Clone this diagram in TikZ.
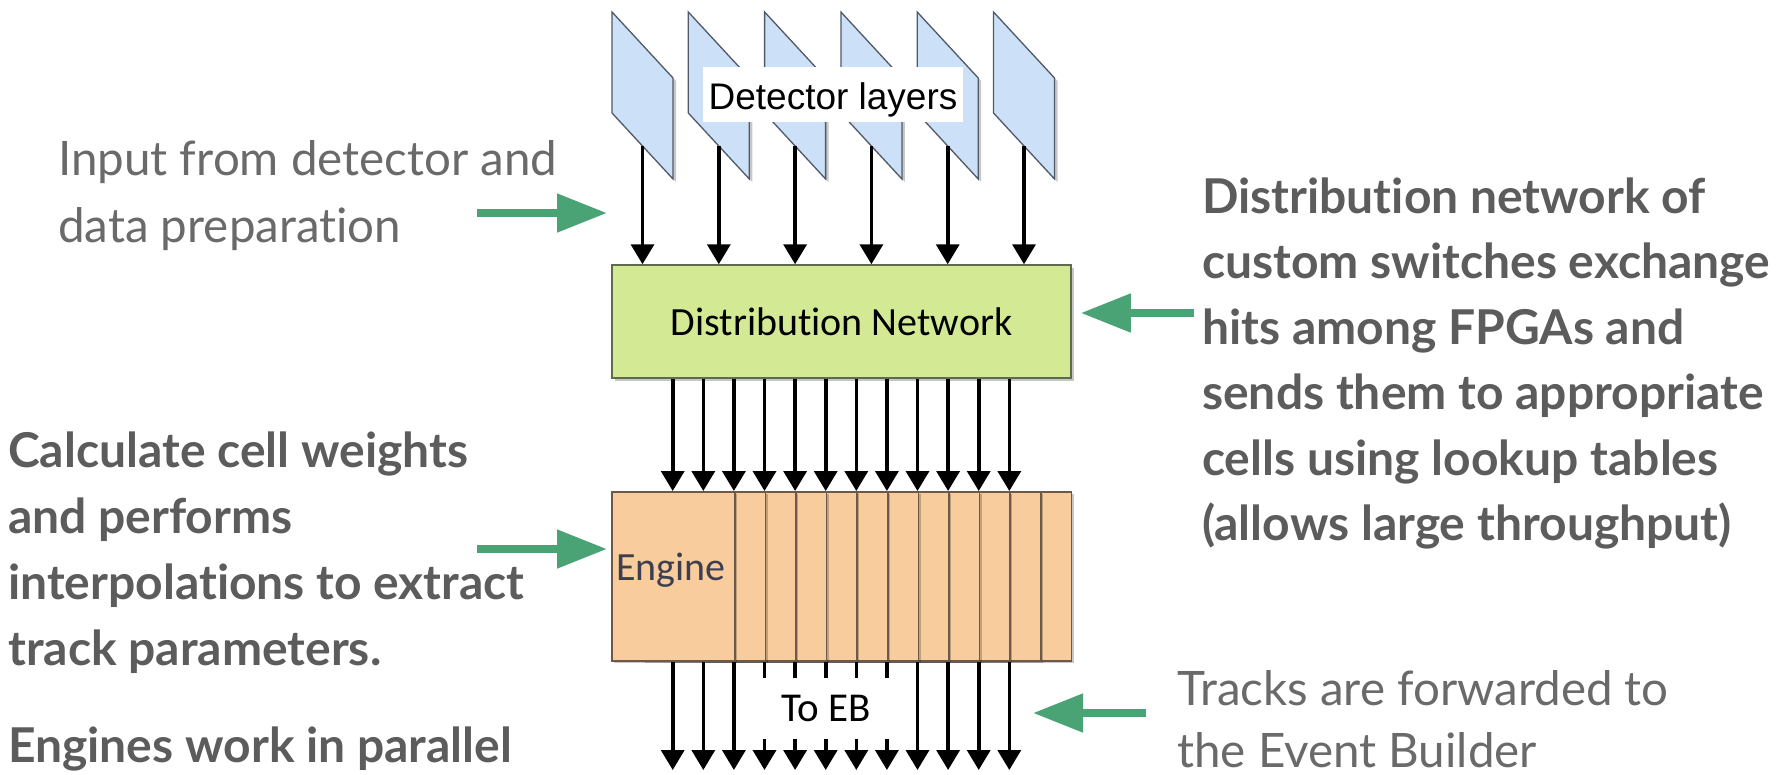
\documentclass[tikz,border=0pt]{standalone}
\usepackage{fontspec}
\setmainfont{Lato}[Ligatures=NoCommon]
\newfontfamily\boxfont{Carlito}[Ligatures=NoCommon]
\newfontfamily\labelfont{Liberation Sans}
\usetikzlibrary{arrows.meta}

\definecolor{planefill}{HTML}{CCE0F8}
\definecolor{planeline}{HTML}{505A66}
\definecolor{distfill}{HTML}{D3E994}
\definecolor{distline}{HTML}{5E6B4C}
\definecolor{engfill}{HTML}{F8CC9C}
\definecolor{engline}{HTML}{6B5A4C}
\definecolor{engtext}{HTML}{3B3F50}
\definecolor{arrowgreen}{HTML}{4AA374}
\definecolor{notegray}{HTML}{6A6A6A}
\definecolor{boldgray}{HTML}{5C5C5C}

\tikzset{
  blk/.style={line width=3.6pt, -{Triangle[length=20pt,width=23pt]}},
  grn/.style={line width=8pt, draw=arrowgreen, -{Triangle[length=50pt,width=37pt]}},
  shadowc/.style={fill=black, opacity=0.22},
  plane/.style={fill=planefill, draw=planeline, line width=1.3pt, line join=miter},
  note/.style={anchor=base west, inner sep=0pt, text=notegray, font=\fontsize{47.5}{56}\selectfont},
  notebold/.style={anchor=base west, inner sep=0pt, text=boldgray, font=\fontsize{48}{56}\selectfont\bfseries},
  engbox/.style={draw=engline, fill=engfill, line width=1.5pt, minimum width=123, minimum height=169, inner sep=0pt, anchor=north west},
}

\begin{document}
\begin{tikzpicture}[x=1pt,y=-1pt]
\useasboundingbox[fill=white] (0,0) rectangle (1787,774);

% detector layers: slanted planes with soft shadow
\foreach \i in {0,...,5} {
  \pgfmathsetmacro\px{612+76.3*\i}
  \fill[shadowc] (\px+3,15) -- ++(61,66) -- ++(0,101) -- ++(-61,-66) -- cycle;
  \draw[plane] (\px,12) -- ++(61,66) -- ++(0,101) -- ++(-61,-66) -- cycle;
  \coordinate (p\i) at (\px+30.5,146);
}
\fill[white] (703,67) rectangle (963,122);
\node[inner sep=0pt, text depth=0pt,
      font=\labelfont\fontsize{37}{40}\selectfont] (det) at (833,96) {Detector layers};

% distribution network
\fill[shadowc] (615,268) rectangle (1074,381);
\node[draw=distline, fill=distfill, line width=1.5pt, minimum width=459, minimum height=113,
      inner sep=0pt, font=\boxfont\fontsize{40}{48}\selectfont] (dist) at (841.5,321.5) {Distribution Network};

\foreach \i in {0,...,5}
  \draw[blk] (p\i) -- (dist.north -| p\i);

% stacked engines, back to front
\foreach \i in {11,10,...,0} {
  \pgfmathsetmacro\ex{611+30.6*\i}
  \fill[shadowc] (\ex+3,494) rectangle (\ex+126,663);
  \node[engbox] (eng\i) at (\ex,491) {};
}
\node[font=\boxfont\fontsize{40}{48}\selectfont, text=engtext, inner sep=0pt] (englabel) at (671,570) {Engine};

% columns of links from the network through the engines
\foreach \j in {0,...,11} {
  \pgfmathsetmacro\cx{672.7+30.6*\j}
  \coordinate (c\j) at (\cx,400);
  \coordinate (out\j) at (\cx,770);
  \draw[blk] (dist.south -| c\j) -- (eng0.north -| c\j);
  \draw[blk] (eng0.south -| c\j) -- (out\j);
}
\node[fill=white, minimum width=160, minimum height=61, inner sep=0pt,
      font=\boxfont\fontsize{41}{48}\selectfont] (toeb) at (826,708) {To EB};

% green pointers
\coordinate (g1s) at (477,213);
\coordinate (g1e) at (607,213);
\draw[grn] (g1s) -- (g1e);
\coordinate (g2s) at (477,549);
\draw[grn, shorten >=4pt] (g2s) -- (eng0.west |- g2s);
\coordinate (g3s) at (1194,313);
\draw[grn, shorten >=9pt] (g3s) -- (dist.east |- g3s);
\coordinate (g4s) at (1146,713);
\coordinate (g4e) at (1033,713);
\draw[grn] (g4s) -- (g4e);

% annotations
\node[note] (in1) at (58,175) {Input from detector and};
\node[note] (in2) at (58,242) {data preparation};

\node[notebold] (le1) at (8,467) {Calculate cell weights};
\node[notebold] (le2) at (8,533) {and performs};
\node[notebold] (le3) at (8,599) {interpolations to extract};
\node[notebold] (le4) at (8,665) {track parameters.};
\node[notebold] (le5) at (8,762) {Engines work in parallel};

\node[notebold] (ri1) at (1202,213) {Distribution network of};
\node[notebold] (ri2) at (1202,278.5) {custom switches exchange};
\node[notebold] (ri3) at (1202,344) {hits among FPGAs and};
\node[notebold] (ri4) at (1202,409.5) {sends them to appropriate};
\node[notebold] (ri5) at (1202,475) {cells using lookup tables};
\node[notebold] (ri6) at (1202,540.5) {(allows large throughput)};

\node[note] (tr1) at (1177,705) {Tracks are forwarded to};
\node[note] (tr2) at (1177,767) {the Event Builder};
\end{tikzpicture}
\end{document}
